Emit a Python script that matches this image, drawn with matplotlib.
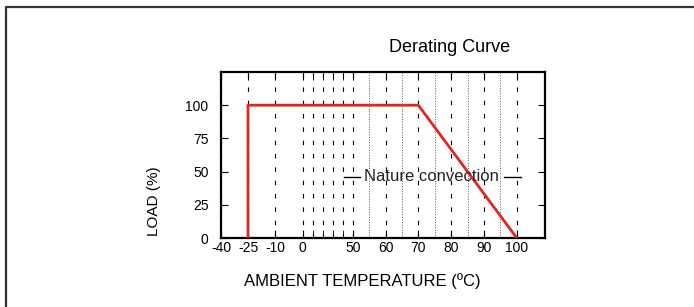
#!/usr/bin/env python3
"""
Derating curve: load (%) vs ambient temperature
"""

import numpy as np
import matplotlib
matplotlib.use('Agg')
import matplotlib.pyplot as plt
from matplotlib.lines import Line2D

plt.rcParams['font.family'] = ['Liberation Sans', 'DejaVu Sans']
plt.rcParams['axes.unicode_minus'] = False

# Derating curve (natural convection)
curve_temp = [-25, -25, 70, 100]
curve_load = [0, 100, 100, 0]

x_major = [-40, -25, -10, 0, 50, 60, 70, 80, 90, 100]
x_minor = [10, 20, 30, 40]
x_dotted = [55, 65, 75, 85, 95]
y_major = [0, 25, 50, 75, 100]

# uneven x axis of the original drawing (temperature -> position)
BREAK_T = [-40, -10, 0, 50, 100, 110]
BREAK_P = [0.0, 54.0, 81.5, 131.7, 295.7, 328.5]


def fwd(t):
    return np.interp(t, BREAK_T, BREAK_P)


def inv(p):
    return np.interp(p, BREAK_P, BREAK_T)


fig = plt.figure(figsize=(6.94, 3.07), dpi=100)
W, H = 694, 307

# outer frame (only left and top edge inside the picture)
fig.add_artist(Line2D([6 / W, 6 / W, 1.01], [-0.01, 1 - 7 / H, 1 - 7 / H],
                      transform=fig.transFigure, color='#333333', lw=1.6))

ax = fig.add_axes([221 / W, 69 / H, 324 / W, 166 / H])
ax.set_xscale('function', functions=(fwd, inv))
ax.set_xlim(-40, 108.6)
ax.set_ylim(0, 125)

# grid
for t in x_major + x_minor:
    ax.axvline(t, color='black', lw=0.8, ls=(0, (4, 8)), zorder=1)
for t in x_dotted:
    ax.axvline(t, color='#555555', lw=0.7, ls=':', zorder=1)

ax.plot(curve_temp, curve_load, color='#e3261f', lw=2, zorder=3)

ax.set_xticks(x_major)
ax.set_xticklabels([str(v) for v in x_major])
ax.set_xticks(x_minor, minor=True)
ax.set_yticks(y_major)
ax.tick_params(axis='both', which='both', direction='in', top=True, right=True,
               labelsize=10, color='black')
ax.tick_params(axis='x', which='major', length=6, pad=2)
ax.tick_params(axis='x', which='minor', length=6)
ax.tick_params(axis='y', length=5, pad=9)

for sp in ax.spines.values():
    sp.set_linewidth(1.6)

ax.set_xlabel('AMBIENT TEMPERATURE (ºC)', fontsize=12)
ax.xaxis.set_label_coords(0.435, -0.21)
ax.set_ylabel('LOAD (%)', fontsize=11)
ax.yaxis.set_label_coords(-0.185, 0.22)

# label of the curve
ax.text(0.651, 0.373, 'Nature convection', transform=ax.transAxes,
        fontsize=12, ha='center', va='center', color='#222222')
ax.plot([0.38, 0.43], [0.365, 0.365], transform=ax.transAxes, color='black', lw=1)
ax.plot([0.875, 0.925], [0.365, 0.365], transform=ax.transAxes, color='black', lw=1)

fig.text(450 / W, 1 - 47 / H, 'Derating Curve', fontsize=13,
         ha='center', va='center')

plt.savefig('out.png', dpi=100)
plt.close()
